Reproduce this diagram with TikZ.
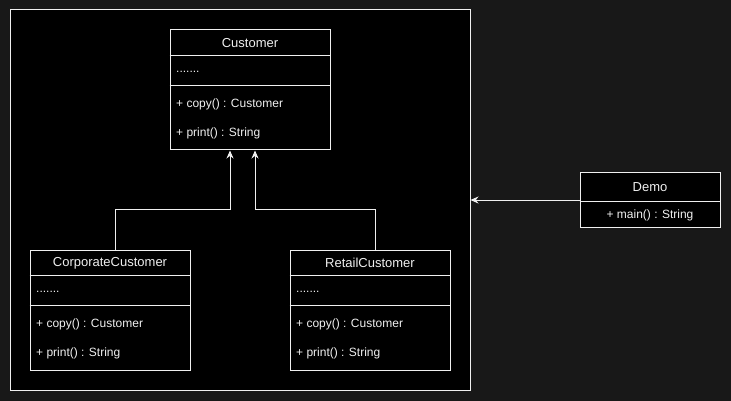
\documentclass[tikz,border=0pt]{standalone}
\usepackage{fontspec}
\setmainfont{Liberation Sans}
\usepackage{tikz}
\usetikzlibrary{arrows.meta}

\definecolor{bgdark}{RGB}{24,24,24}
\definecolor{ink}{RGB}{240,240,240}

\tikzset{
  cls/.style={draw=ink, fill=black, line width=1pt, minimum width=160pt, inner sep=0pt},
  title/.style={text=ink, font=\fontsize{13}{15}\selectfont, inner sep=0pt},
  member/.style={text=ink, font=\fontsize{12}{14}\selectfont, anchor=west, inner sep=0pt},
  inh/.style={draw=ink, line width=1pt, -{Stealth[length=8pt, width=7pt]}},
}

\begin{document}
\begin{tikzpicture}[x=1pt, y=-1pt]
            \fill[bgdark] (0,0) rectangle (731,401);
            \useasboundingbox (0,0) rectangle (731,401);
            \node[draw=ink, fill=black, line width=1pt, minimum width=460pt, minimum height=380pt, inner sep=0pt] at (240, 200) (frame) {};

            % Customer
            \node[cls, minimum height=120pt] at (250, 90) (cust) {};
            \draw[ink, line width=1pt] ([yshift=-26pt]cust.north west) -- ([yshift=-26pt]cust.north east);
            \draw[ink, line width=1pt] ([yshift=-56pt]cust.north west) -- ([yshift=-56pt]cust.north east);
            \node[title] at (250, 43) (custname) {Customer};
            \node[member] at (176, 72) (custattr) {.......};
            \node[member] at (176, 104) (custcopy) {+ copy() : Customer};
            \node[member] at (176, 133) (custprint) {+ print() : String};

            % CorporateCustomer
            \node[cls, minimum height=120pt] at (110, 310) (corp) {};
            \draw[ink, line width=1pt] ([yshift=-26pt]corp.north west) -- ([yshift=-26pt]corp.north east);
            \draw[ink, line width=1pt] ([yshift=-56pt]corp.north west) -- ([yshift=-56pt]corp.north east);
            \node[title] at (110, 263) (corpname) {CorporateCustomer};
            \node[member] at (36, 292) (corpattr) {.......};
            \node[member] at (36, 324) (corpcopy) {+ copy() : Customer};
            \node[member] at (36, 353) (corpprint) {+ print() : String};

            % RetailCustomer
            \node[cls, minimum height=120pt] at (370, 310) (ret) {};
            \draw[ink, line width=1pt] ([yshift=-26pt]ret.north west) -- ([yshift=-26pt]ret.north east);
            \draw[ink, line width=1pt] ([yshift=-56pt]ret.north west) -- ([yshift=-56pt]ret.north east);
            \node[title] at (370, 263) (retname) {RetailCustomer};
            \node[member] at (296, 292) (retattr) {.......};
            \node[member] at (296, 324) (retcopy) {+ copy() : Customer};
            \node[member] at (296, 353) (retprint) {+ print() : String};

            % Demo
            \node[cls, minimum width=140pt, minimum height=54pt] at (650, 200) (demo) {};
            \draw[ink, line width=1pt] ([yshift=-29pt]demo.north west) -- ([yshift=-29pt]demo.north east);
            \node[title] at (650, 187) (demoname) {Demo};
            \node[member, anchor=center] at (650, 215) (demomain) {+ main() : String};

            \draw[inh] ([xshift=5pt]corp.north) -- ++(0,-40) -| ([xshift=-20pt]cust.south);
            \draw[inh] ([xshift=5pt]ret.north) -- ++(0,-40) -| ([xshift=5pt]cust.south);
            \draw[inh] (demo.west) -- (frame.east);
        \end{tikzpicture}
\end{document}
